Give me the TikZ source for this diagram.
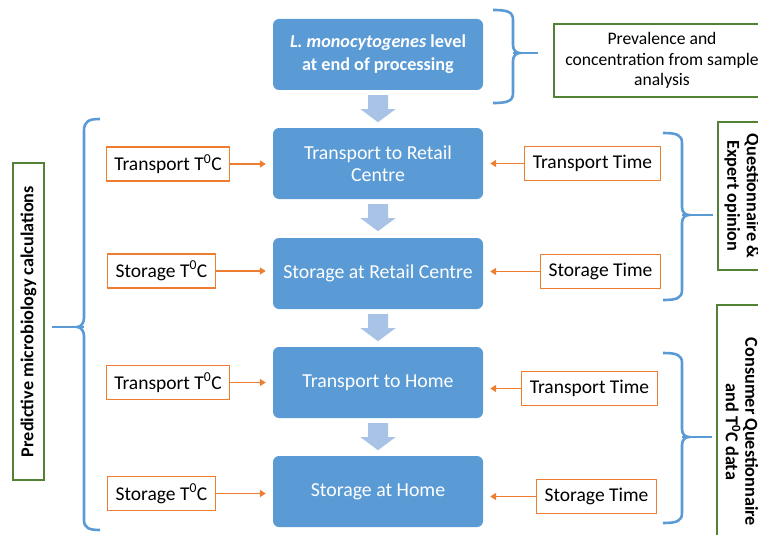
\documentclass[tikz,border=0pt]{standalone}
\usepackage{fontspec}
\setmainfont{Carlito}
\usetikzlibrary{arrows.meta,calc}
\definecolor{bluebox}{HTML}{5B9BD5}
\definecolor{orangeln}{HTML}{ED7D31}
\definecolor{greenln}{HTML}{548235}
\definecolor{arrowfill}{HTML}{A9C3E6}
\newcommand\mybraceR[6]{%
  \draw[bracel] (#1,#3) .. controls (#2-5,#3) and (#2,#3+2) .. (#2,#3+10)
    -- (#2,#4-8) .. controls (#2,#4-3) and (#2+3,#4) .. (#2+7,#4)
    .. controls (#2+3,#4) and (#2,#4+3) .. (#2,#4+8)
    -- (#2,#5-10) .. controls (#2,#5-2) and (#2-5,#5) .. (#1,#5);
  \draw[bracel] (#2,#4) -- (#6,#4);}
\begin{document}
\begin{tikzpicture}[x=1pt,y=-1pt,
  stage/.style={fill=bluebox, rounded corners=6pt, minimum width=210pt,
    minimum height=71pt, text=white, align=center, inner sep=2pt,
    font=\fontsize{19.8}{22}\selectfont},
  factor/.style={draw=orangeln, line width=1.3pt, fill=white, minimum height=34pt,
    inner xsep=8pt, font=\fontsize{19.5}{20}\selectfont},
  source/.style={draw=greenln, line width=1.3pt, align=center, inner sep=2pt},
  feed/.style={draw=orangeln, line width=1.8pt, -{Triangle[length=6pt,width=7pt]},
    shorten >=7pt},
  bracel/.style={draw=bluebox, line width=2.6pt},
  downarrow/.style={fill=arrowfill}
]
\useasboundingbox (0,0) rectangle (758,535);
\clip (0,0) rectangle (758,535);

% main stages
\node[stage, font=\bfseries\fontsize{18.2}{23}\selectfont] (s1) at (378,54.5)
  {\textit{L. monocytogenes} level\\at end of processing};
\node[stage] (s2) at (378,163.5) {Transport to Retail\\Centre};
\node[stage] (s3) at (378,273.5) {Storage at Retail Centre};
\node[stage] (s4) at (378,382.5) {Transport to Home};
\node[stage] (s5) at (378,491.5) {Storage at Home};

% down arrows
\foreach \a in {s1,s2,s3,s4}{
  \fill[downarrow] ($(\a.south)+(-10,5)$) -- ($(\a.south)+(10,5)$)
    -- ($(\a.south)+(10,19)$) -- ($(\a.south)+(17.5,19)$)
    -- ($(\a.south)+(0,32)$) -- ($(\a.south)+(-17.5,19)$)
    -- ($(\a.south)+(-10,19)$) -- cycle;
}

% left factors
\node[factor] (l2) at (168,164) {Transport T\textsuperscript{0}C};
\node[factor] (l3) at (161.5,271) {Storage T\textsuperscript{0}C};
\node[factor] (l4) at (168,382.5) {Transport T\textsuperscript{0}C};
\node[factor] (l5) at (161.5,493.5) {Storage T\textsuperscript{0}C};
% right factors
\node[factor] (r2) at (592.5,163.5) {Transport Time};
\node[factor] (r3) at (600.5,271.5) {Storage Time};
\node[factor] (r4) at (589.5,388.5) {Transport Time};
\node[factor] (r5) at (596.5,496.5) {Storage Time};

\foreach \i in {2,3,4,5}{
  \draw[feed] (l\i.east) -- (l\i.east -| s\i.west);
  \draw[feed] (r\i.west) -- (r\i.west -| s\i.east);
}

% green source boxes
\node[source, minimum width=216pt, minimum height=73pt,
  font=\fontsize{17.6}{20.5}\selectfont] (g1) at (662,60.5)
  {Prevalence and\\concentration from sample\\analysis};
\node[source, rotate=90, minimum width=317pt, minimum height=31pt,
  font=\bfseries\fontsize{18.2}{19}\selectfont] (g0) at (28.5,321.5)
  {Predictive microbiology calculations};
\node[source, rotate=-90, minimum width=148pt, minimum height=48pt,
  font=\bfseries\fontsize{18.2}{19.5}\selectfont] (g2) at (742,196)
  {Questionnaire \&\\Expert opinion};
\node[source, rotate=-90, minimum width=254pt, minimum height=50pt,
  font=\bfseries\fontsize{18.2}{19.5}\selectfont] (g3) at (742,432)
  {Consumer Questionnaire\\and T\textsuperscript{0}C data};

% braces
\draw[bracel] (100,119) .. controls (89,119) and (84,121) .. (84,131)
  -- (84,318) .. controls (84,323) and (81,327) .. (77,327)
  .. controls (81,327) and (84,331) .. (84,336)
  -- (84,520) .. controls (84,528) and (89,530) .. (100,530);
\draw[bracel] (84,327) -- (52,327);
\mybraceR{493}{513}{10}{53}{103}{538}
\mybraceR{663}{682}{133}{215}{300}{713}
\mybraceR{663}{682}{353}{437}{523}{712}
\end{tikzpicture}
\end{document}
